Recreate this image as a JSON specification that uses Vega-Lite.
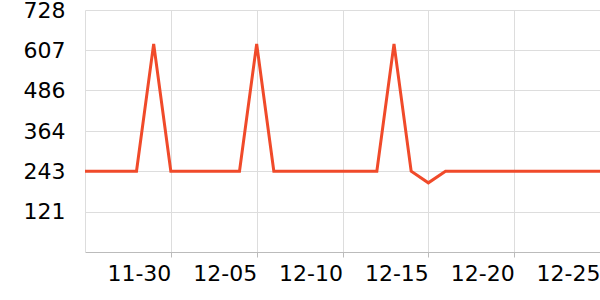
{
  "$schema": "https://vega.github.io/schema/vega-lite/v6.json",
  "width": 515,
  "height": 242,
  "autosize": {"type": "none"},
  "padding": {"left": 85, "top": 10, "right": 0, "bottom": 48},
  "config": {"view": {"stroke": null}, "font": "DejaVu Sans"},
  "data": {"values": [
    {"date": "2023-11-25", "value": 243},
    {"date": "2023-11-26", "value": 243},
    {"date": "2023-11-27", "value": 243},
    {"date": "2023-11-28", "value": 243},
    {"date": "2023-11-29", "value": 626},
    {"date": "2023-11-30", "value": 243},
    {"date": "2023-12-01", "value": 243},
    {"date": "2023-12-02", "value": 243},
    {"date": "2023-12-03", "value": 243},
    {"date": "2023-12-04", "value": 243},
    {"date": "2023-12-05", "value": 626},
    {"date": "2023-12-06", "value": 243},
    {"date": "2023-12-07", "value": 243},
    {"date": "2023-12-08", "value": 243},
    {"date": "2023-12-09", "value": 243},
    {"date": "2023-12-10", "value": 243},
    {"date": "2023-12-11", "value": 243},
    {"date": "2023-12-12", "value": 243},
    {"date": "2023-12-13", "value": 626},
    {"date": "2023-12-14", "value": 243},
    {"date": "2023-12-15", "value": 208},
    {"date": "2023-12-16", "value": 243},
    {"date": "2023-12-17", "value": 243},
    {"date": "2023-12-18", "value": 243},
    {"date": "2023-12-19", "value": 243},
    {"date": "2023-12-20", "value": 243},
    {"date": "2023-12-21", "value": 243},
    {"date": "2023-12-22", "value": 243},
    {"date": "2023-12-23", "value": 243},
    {"date": "2023-12-24", "value": 243},
    {"date": "2023-12-25", "value": 243}
  ]},
  "mark": {"type": "line", "color": "#f04a2a", "strokeWidth": 3},
  "encoding": {
    "x": {
      "field": "date", "type": "temporal",
      "scale": {"type": "utc", "domain": [
        {"year": 2023, "month": 11, "date": 25, "utc": true},
        {"year": 2023, "month": 12, "date": 25, "utc": true}
      ]},
      "axis": {
        "title": null,
        "labelExpr": "utcFormat(datum.value, '%m-%d')",
        "values": [
          {"year": 2023, "month": 11, "date": 30, "utc": true},
          {"year": 2023, "month": 12, "date": 5, "utc": true},
          {"year": 2023, "month": 12, "date": 10, "utc": true},
          {"year": 2023, "month": 12, "date": 15, "utc": true},
          {"year": 2023, "month": 12, "date": 20, "utc": true},
          {"year": 2023, "month": 12, "date": 25, "utc": true}
        ],
        "labelAlign": "right",
        "labelFontSize": 22,
        "labelColor": "#000",
        "labelPadding": 6,
        "labelFlush": false,
        "labelOverlap": false,
        "grid": true,
        "gridColor": "#dddddd",
        "domainColor": "#bbbbbb",
        "tickColor": "#bbbbbb",
        "tickSize": 5
      }
    },
    "y": {
      "field": "value", "type": "quantitative",
      "scale": {"domain": [0, 728], "nice": false},
      "axis": {
        "title": null,
        "values": [121, 243, 364, 486, 607, 728],
        "labelFontSize": 22,
        "labelColor": "#000",
        "labelPadding": 20,
        "ticks": false,
        "grid": true,
        "gridColor": "#dddddd",
        "domainColor": "#dddddd"
      }
    }
  }
}
